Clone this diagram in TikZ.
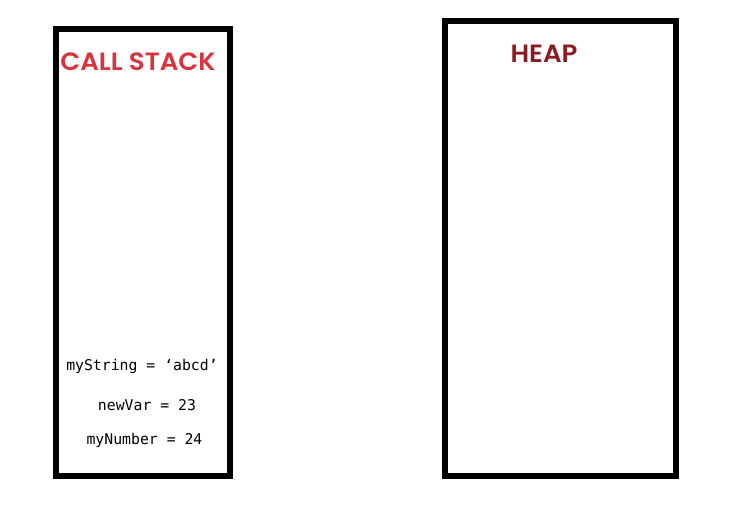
\documentclass[tikz,border=0pt]{standalone}
\usepackage{fontspec}
\setmainfont{Poppins}
\newfontfamily\monofnt{DejaVu Sans Mono}
\newfontfamily\titlefnt{Poppins SemiBold}
\definecolor{stackred}{HTML}{D8343E}
\definecolor{heapred}{HTML}{8C1C24}
\begin{document}
\begin{tikzpicture}[x=1pt,y=-1pt,
  panel/.style={draw=black,line width=6pt,fill=white},
  title/.style={font=\titlefnt\fontsize{25}{27}\selectfont,inner sep=0pt,xscale=1.04},
  var/.style={font=\monofnt\fontsize{14.8}{16}\selectfont,inner sep=0pt}]
\useasboundingbox (0,0) rectangle (750,509);
\draw[panel] (55.5,29) rectangle (230,476);
\draw[panel] (445,20.5) rectangle (676,475.5);
\node[title,text=stackred] (cs) at (138,62) {CALL STACK};
\node[title,text=heapred] (heap) at (544,54) {HEAP};
\node[var] (v1) at (142,366) {myString = ‘abcd’};
\node[var] (v2) at (147,405) {newVar = 23};
\node[var] (v3) at (144.5,440) {myNumber = 24};
\end{tikzpicture}
\end{document}
